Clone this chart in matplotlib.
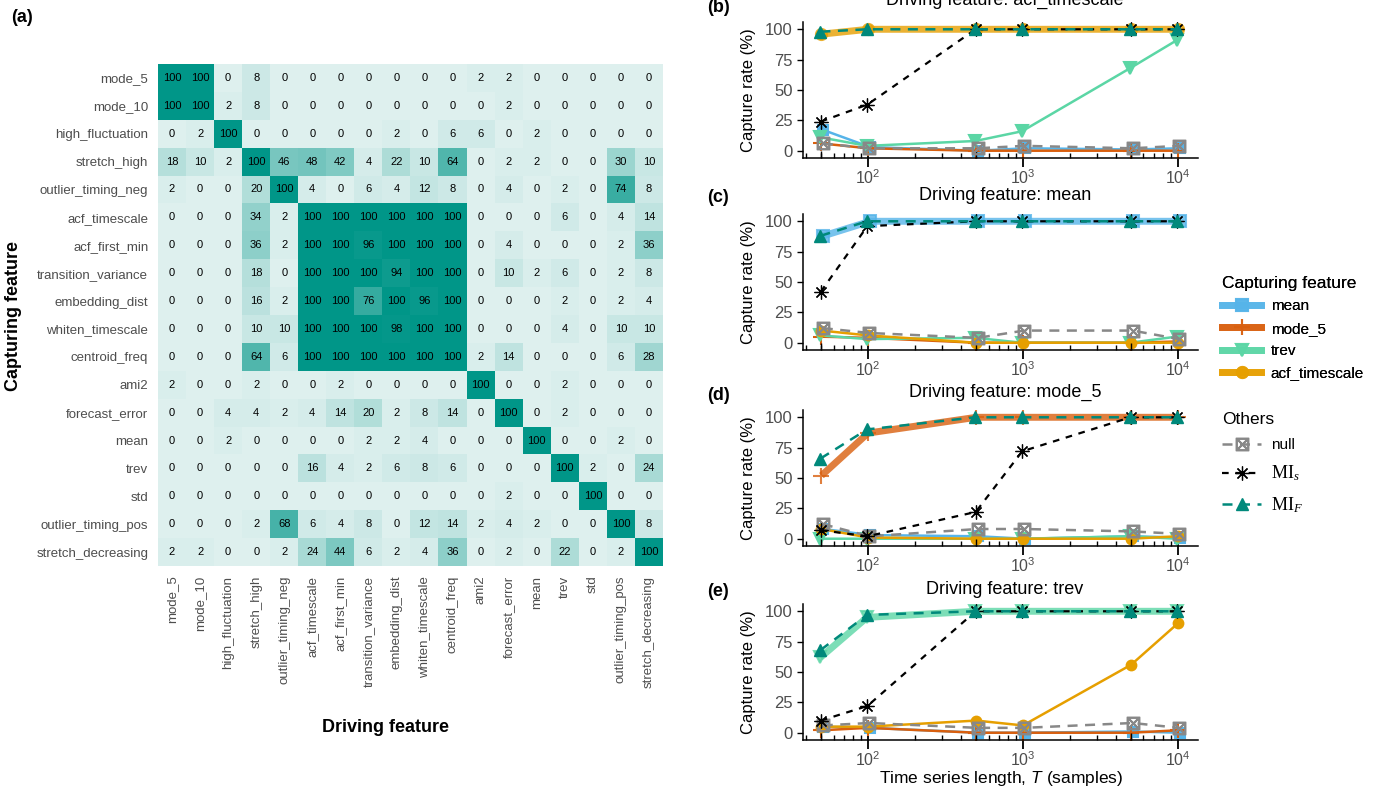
import numpy as np
import matplotlib
matplotlib.use('Agg')
import matplotlib.pyplot as plt
from matplotlib import font_manager
from matplotlib.colors import LinearSegmentedColormap
from matplotlib.lines import Line2D
from matplotlib.ticker import FixedLocator, LogFormatterSciNotation, NullFormatter

names = {f.name for f in font_manager.fontManager.ttflist}
SANS = 'Liberation Sans' if 'Liberation Sans' in names else 'DejaVu Sans'
NARROW = 'Liberation Sans Narrow' if 'Liberation Sans Narrow' in names else SANS

plt.rcParams['font.family'] = SANS
plt.rcParams['mathtext.fontset'] = 'custom'
plt.rcParams['mathtext.rm'] = 'Liberation Serif'
plt.rcParams['mathtext.it'] = 'Liberation Serif:italic'
plt.rcParams['mathtext.sf'] = 'Liberation Sans:italic'

# ---------------- data: heatmap ----------------
features = ['mode_5', 'mode_10', 'high_fluctuation', 'stretch_high', 'outlier_timing_neg',
            'acf_timescale', 'acf_first_min', 'transition_variance', 'embedding_dist',
            'whiten_timescale', 'centroid_freq', 'ami2', 'forecast_error', 'mean', 'trev',
            'std', 'outlier_timing_pos', 'stretch_decreasing']

row_mode_5 = [100, 100, 0, 8, 0, 0, 0, 0, 0, 0, 0, 2, 2, 0, 0, 0, 0, 0]
row_mode_10 = [100, 100, 2, 8, 0, 0, 0, 0, 0, 0, 0, 0, 2, 0, 0, 0, 0, 0]
row_high_fluctuation = [0, 2, 100, 0, 0, 0, 0, 0, 2, 0, 6, 6, 0, 2, 0, 0, 0, 0]
row_stretch_high = [18, 10, 2, 100, 46, 48, 42, 4, 22, 10, 64, 0, 2, 2, 0, 0, 30, 10]
row_outlier_timing_neg = [2, 0, 0, 20, 100, 4, 0, 6, 4, 12, 8, 0, 4, 0, 2, 0, 74, 8]
row_acf_timescale = [0, 0, 0, 34, 2, 100, 100, 100, 100, 100, 100, 0, 0, 0, 6, 0, 4, 14]
row_acf_first_min = [0, 0, 0, 36, 2, 100, 100, 96, 100, 100, 100, 0, 4, 0, 0, 0, 2, 36]
row_transition_variance = [0, 0, 0, 18, 0, 100, 100, 100, 94, 100, 100, 0, 10, 2, 6, 0, 2, 8]
row_embedding_dist = [0, 0, 0, 16, 2, 100, 100, 76, 100, 96, 100, 0, 0, 0, 2, 0, 2, 4]
row_whiten_timescale = [0, 0, 0, 10, 10, 100, 100, 100, 98, 100, 100, 0, 0, 0, 4, 0, 10, 10]
row_centroid_freq = [0, 0, 0, 64, 6, 100, 100, 100, 100, 100, 100, 2, 14, 0, 0, 0, 6, 28]
row_ami2 = [2, 0, 0, 2, 0, 0, 2, 0, 0, 0, 0, 100, 0, 0, 2, 0, 0, 0]
row_forecast_error = [0, 0, 4, 4, 2, 4, 14, 20, 2, 8, 14, 0, 100, 0, 2, 0, 0, 0]
row_mean = [0, 0, 2, 0, 0, 0, 0, 2, 2, 4, 0, 0, 0, 100, 0, 0, 2, 0]
row_trev = [0, 0, 0, 0, 0, 16, 4, 2, 6, 8, 6, 0, 0, 0, 100, 2, 0, 24]
row_std = [0, 0, 0, 0, 0, 0, 0, 0, 0, 0, 0, 0, 2, 0, 0, 100, 0, 0]
row_outlier_timing_pos = [0, 0, 0, 2, 68, 6, 4, 8, 0, 12, 14, 2, 4, 2, 0, 0, 100, 8]
row_stretch_decreasing = [2, 2, 0, 0, 2, 24, 44, 6, 2, 4, 36, 0, 2, 0, 22, 0, 2, 100]

heat = np.array([row_mode_5, row_mode_10, row_high_fluctuation, row_stretch_high,
                 row_outlier_timing_neg, row_acf_timescale, row_acf_first_min,
                 row_transition_variance, row_embedding_dist, row_whiten_timescale,
                 row_centroid_freq, row_ami2, row_forecast_error, row_mean, row_trev,
                 row_std, row_outlier_timing_pos, row_stretch_decreasing])

# ---------------- data: line panels ----------------
T = [50, 100, 500, 1000, 5000, 10000]
capturing = ['mean', 'mode_5', 'trev', 'acf_timescale']

b_mean = [17, 3, 0, 2, 1, 2]
b_mode_5 = [6, 2, 0, 0, 0, 0]
b_trev = [11, 4, 8, 16, 68, 91]
b_acf = [96, 100, 100, 100, 100, 100]
b_null = [6, 2, 2, 4, 2, 4]
b_mis = [24, 38, 100, 100, 100, 100]
b_mif = [98, 100, 100, 100, 100, 100]

c_mean = [88, 100, 100, 100, 100, 100]
c_mode_5 = [5, 4, 0, 0, 0, 1]
c_trev = [6, 3, 4, 0, 0, 5]
c_acf = [10, 6, 0, 0, 0, 0]
c_null = [12, 8, 4, 10, 10, 3]
c_mis = [42, 96, 100, 100, 100, 100]
c_mif = [88, 100, 100, 100, 100, 100]

d_mean = [8, 3, 2, 0, 2, 1]
d_mode_5 = [52, 87, 100, 100, 100, 100]
d_trev = [0, 0, 0, 0, 2, 0]
d_acf = [8, 1, 0, 0, 0, 2]
d_null = [12, 2, 8, 8, 6, 4]
d_mis = [7, 2, 22, 72, 100, 100]
d_mif = [66, 90, 100, 100, 100, 100]

e_mean = [5, 4, 0, 0, 1, 0]
e_mode_5 = [2, 4, 0, 0, 0, 2]
e_trev = [62, 95, 100, 100, 100, 100]
e_acf = [5, 5, 10, 6, 56, 90]
e_null = [6, 8, 4, 4, 8, 4]
e_mis = [10, 22, 100, 100, 100, 100]
e_mif = [68, 97, 100, 100, 100, 100]

panels = [
    ('(b)', 'acf_timescale', [b_mean, b_mode_5, b_trev, b_acf], b_null, b_mis, b_mif),
    ('(c)', 'mean', [c_mean, c_mode_5, c_trev, c_acf], c_null, c_mis, c_mif),
    ('(d)', 'mode_5', [d_mean, d_mode_5, d_trev, d_acf], d_null, d_mis, d_mif),
    ('(e)', 'trev', [e_mean, e_mode_5, e_trev, e_acf], e_null, e_mis, e_mif),
]

# ---------------- styles ----------------
W, H = 1388, 789
cap_colors = ['#56B4E9', '#D95F0E', '#5BD6A5', '#E69F00']
cap_markers = ['s', '+', 'v', 'o']
cap_ms = [7, 11, 8, 7]
cap_dodge = [1.03, 1.0, 0.985, 1.0]
null_color = '#888888'
mif_color = '#00897B'
GRAY = '#4D4D4D'

fig = plt.figure(figsize=(W / 100, H / 100), dpi=100)

# ---------------- heatmap ----------------
axh = fig.add_axes([158 / W, 1 - 566 / H, 505 / W, 502 / H])
cmap = LinearSegmentedColormap.from_list('teal', ['#DEF0EE', '#009688'])
axh.imshow(heat, cmap=cmap, vmin=0, vmax=100, aspect='auto', interpolation='nearest')
for i in range(heat.shape[0]):
    for j in range(heat.shape[1]):
        axh.text(j, i, str(heat[i, j]), ha='center', va='center', fontsize=8,
                 family=NARROW, color='black')
axh.set_xticks(range(len(features)))
axh.set_xticklabels(features, rotation=90, fontsize=9.5, color=GRAY, family=NARROW)
axh.set_yticks(range(len(features)))
axh.set_yticklabels(features, fontsize=9.5, color=GRAY, family=NARROW)
axh.tick_params(length=0, pad=7)
for s in axh.spines.values():
    s.set_visible(False)

fig.text(14 / W, 1 - 316 / H, 'Capturing feature', rotation=90, ha='center', va='center',
         fontsize=13, weight='bold')
fig.text(385 / W, 1 - 727 / H, 'Driving feature', ha='center', va='center',
         fontsize=13, weight='bold')
fig.text(22 / W, 1 - 17 / H, '(a)', ha='center', va='center', fontsize=13, weight='bold')

# ---------------- line panels ----------------
panel_bottoms = [158, 350, 546, 740]
title_ys = [0, 196, 392, 590]
letter_ys = [7, 198, 395, 592]
minor_locs = [m * 10 ** k for k in range(1, 5) for m in range(2, 10)]
mid_locs = [5 * 10 ** k for k in range(1, 4)]

for p, (letter, driving, caps, nul, mis, mif) in enumerate(panels):
    bot = panel_bottoms[p]
    ax = fig.add_axes([803 / W, 1 - bot / H, 395 / W, 136 / H])
    ax.set_xscale('log')
    ax.set_xlim(38, 13500)
    ax.set_ylim(-6, 106)
    order = [k for k in range(4) if capturing[k] != driving] + \
            [k for k in range(4) if capturing[k] == driving]
    for k in order:
        thick = capturing[k] == driving
        xs = [t * cap_dodge[k] for t in T]
        ax.plot(xs, caps[k], color=cap_colors[k], lw=5 if thick else 1.8,
                alpha=0.8 if thick else 1.0, marker=cap_markers[k],
                ms=cap_ms[k] + (1 if thick else 0), mew=1.5, zorder=3 if thick else 2,
                solid_capstyle='butt')
    xs = [t * 1.02 for t in T]
    ax.plot(xs, nul, color=null_color, lw=1.8, ls=(0, (4, 3)), marker=r'$\boxtimes$',
            ms=9, zorder=4)
    xs = [t * 0.99 for t in T]
    ax.plot(xs, mis, color='black', lw=1.6, ls=(0, (3, 3)), marker=(8, 2, 0), ms=10,
            mew=0.9, zorder=5)
    xs = [t * 0.985 for t in T]
    ax.plot(xs, mif, color=mif_color, lw=1.8, ls=(0, (4, 3)), marker='^', ms=8.5, zorder=6)

    for s in ['top', 'right']:
        ax.spines[s].set_visible(False)
    ax.spines['left'].set_linewidth(1.1)
    ax.spines['bottom'].set_linewidth(1.1)
    ax.set_yticks([0, 25, 50, 75, 100])
    ax.tick_params(axis='y', labelsize=12, labelcolor=GRAY, length=4, width=1)
    ax.xaxis.set_major_locator(FixedLocator([100, 1000, 10000]))
    ax.xaxis.set_major_formatter(LogFormatterSciNotation())
    ax.xaxis.set_minor_locator(FixedLocator(minor_locs))
    ax.xaxis.set_minor_formatter(NullFormatter())
    ax.tick_params(axis='x', which='major', direction='inout', length=13, width=1.3,
                   labelsize=11.5, labelcolor=GRAY, pad=1)
    ax.tick_params(axis='x', which='minor', direction='in', length=3.5, width=1)
    ax.vlines(mid_locs, 0, 0.055, transform=ax.get_xaxis_transform(), color='black',
              lw=1, clip_on=False)

    fig.text(1005 / W, 1 - title_ys[p] / H, 'Driving feature: ' + driving, ha='center',
             va='center', fontsize=13)
    fig.text(718 / W, 1 - letter_ys[p] / H, letter, ha='center', va='center',
             fontsize=13, weight='bold')
    fig.text(748 / W, 1 - (bot - 68) / H, 'Capture rate (%)', rotation=90, ha='center',
             va='center', fontsize=12)

fig.text(1001 / W, 1 - 778 / H, r'Time series length, $\mathsf{T}$ (samples)',
         ha='center', va='center', fontsize=12.5)

# ---------------- legends ----------------
h1 = [Line2D([], [], color=cap_colors[k], lw=5, alpha=0.8, marker=cap_markers[k],
             ms=cap_ms[k] + 1, mew=1.5) for k in range(4)]
leg1 = fig.legend(h1, capturing, title='Capturing feature', loc='upper left',
                  bbox_to_anchor=(1208 / W, 1 - 262 / H), frameon=False, fontsize=11,
                  title_fontsize=12.5, handlelength=2.6, labelspacing=0.55,
                  alignment='left', handletextpad=0.6)
h2 = [Line2D([], [], color=null_color, lw=1.8, ls=(0, (4, 3)), marker=r'$\boxtimes$', ms=9),
      Line2D([], [], color='black', lw=1.6, ls=(0, (3, 3)), marker=(8, 2, 0), ms=10, mew=0.9),
      Line2D([], [], color=mif_color, lw=1.8, ls=(0, (4, 3)), marker='^', ms=8.5)]
leg2 = fig.legend(h2, ['null', r'$\mathrm{MI}_s$', r'$\mathrm{MI}_F$'], title='Others',
                  loc='upper left', bbox_to_anchor=(1208 / W, 1 - 398 / H), frameon=False,
                  fontsize=11, title_fontsize=12.5, handlelength=2.6, labelspacing=0.75,
                  alignment='left', handletextpad=0.6)
leg2.get_texts()[1].set_fontsize(13)
leg2.get_texts()[2].set_fontsize(13)
fig.add_artist(leg1)

fig.savefig('out.png', dpi=100)
